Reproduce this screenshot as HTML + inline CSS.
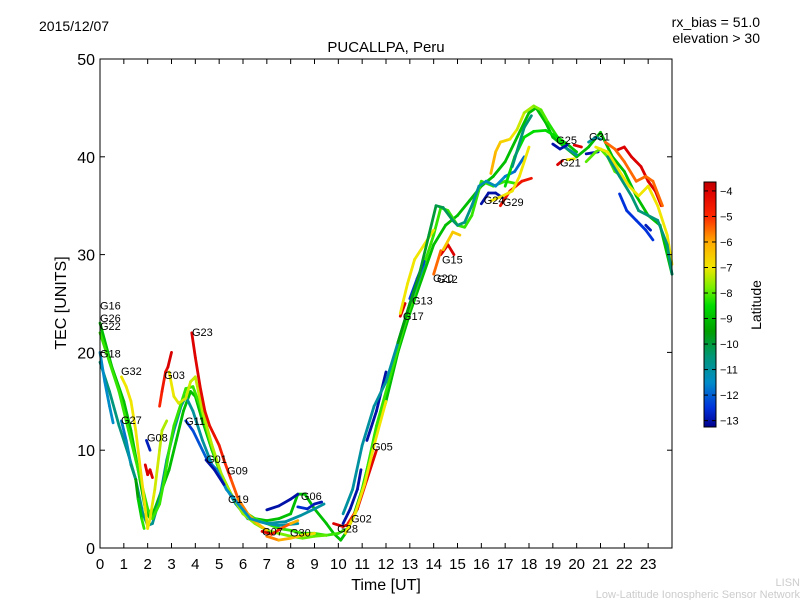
<!DOCTYPE html>
<html><head><meta charset="utf-8"><style>
body{margin:0;background:#fff;}
svg{display:block;font-family:"Liberation Sans","DejaVu Sans",sans-serif;}
</style></head><body>
<svg id="chart" width="800" height="600" viewBox="0 0 800 600">
<rect x="0" y="0" width="800" height="600" fill="#fff"/>
<text x="39" y="31" font-size="14">2015/12/07</text>
<text x="760" y="27" font-size="14" text-anchor="end">rx_bias = 51.0</text>
<text x="760" y="43" font-size="14" text-anchor="end">elevation &gt; 30</text>
<text x="386" y="52" font-size="15" text-anchor="middle">PUCALLPA, Peru</text>
<text x="386" y="590" font-size="16" text-anchor="middle">Time [UT]</text>
<text x="66" y="303" font-size="16" text-anchor="middle" transform="rotate(-90 66 303)">TEC [UNITS]</text>
<text x="800" y="586" font-size="11" fill="#ccc" text-anchor="end">LISN</text>
<text x="800" y="598" font-size="11" fill="#ccc" text-anchor="end">Low-Latitude Ionospheric Sensor Network</text>
<g id="plot"></g>
<g id="axes"></g>
<g id="cbar"></g>
<text x="761" y="305" font-size="14" text-anchor="middle" transform="rotate(-90 761 305)">Latitude</text>
</svg>
<script>
const xTicks = [0,1,2,3,4,5,6,7,8,9,10,11,12,13,14,15,16,17,18,19,20,21,22,23];
const yTicks = [0,10,20,30,40,50];
const cbTicks = [-4,-5,-6,-7,-8,-9,-10,-11,-12,-13];
const trackTimes = [
 [0,0.5,1,1.3,1.6,1.9,2.1,2.3,2.6,2.9,3.2,3.5,3.8,4,4.3,4.7,5,5.5,6,6.5,7,7.5,8,8.3,8.6,9,9.5,9.8,10.1,10.3,10.6,11,11.5,12,12.5,13,13.5,14,14.5,15,15.5,16,16.5,17,17.5,18,18.3,18.7,19,19.5,20,20.5,21,21.5,22,22.5,23,23.5,24],
 [0,0.4,0.8,1.2,1.5,1.8,2,2.2,2.5,2.8,3.1,3.4,3.6,3.9,4.3,4.7,5.2,5.7,6.2,7,7.8,8.4,9,9.4],
 [0,0.2,0.4,0.55],
 [0,0.4,0.8,1.2,1.5,1.8,2,2.2,2.5,2.7,2.9,3.1,3.3,3.6,3.9,4.2,4.6,5,5.5,6,6.5,7,7.5,8,8.5,9,9.5,10,10.4,10.8,11.2,11.6,12,12.4,12.8,13.2,13.6,14,14.3,14.6,15,15.3,15.6,16,16.5,17,17.4],
 [0.9,1.1,1.3,1.5,1.7,1.9,2,2.1,2.3,2.5,2.6,2.8],
 [0.9,1.1,1.3,1.5,1.6,1.75,1.85],
 [1.9,2,2.1,2.2],
 [2.5,2.6,2.75,2.85,3],
 [2.9,3.1,3.3,3.6,3.8,4,4.3,4.7,5.1,5.5,6,6.5,7,7.5,8,8.5,9,9.5],
 [3.85,4,4.2,4.4,4.6,4.8,5,5.2,5.5,5.8,6.2,6.6,7],
 [3.6,3.9,4.2,4.5,4.9,5.3,5.8,6.3,7,7.5,8.3],
 [4.45,4.8,5.2],
 [7,7.5,8,8.3],
 [8.3,8.7,9,9.3],
 [6.8,7.2,7.6,8,8.3],
 [7,7.5,8,8.5,9],
 [9.8,10.2,10.5],
 [10.4,10.8,11.2,11.6],
 [10.3,10.7,11.1,11.5,12],
 [10.2,10.5,10.8,10.95],
 [11.2,11.6,12],
 [10.2,10.6,11,11.5,12,12.5,13,13.3,13.6],
 [12.6,12.8],
 [12.6,12.9,13.2,13.6,14],
 [13,13.3,13.6],
 [14.3,14.6,14.85],
 [14.4,14.8,15.1],
 [14,14.3],
 [12.5,13,13.4,13.8,14.1,14.4,14.8,15,15.3,15.6,15.9,16.2,16.6,17,17.4,17.8],
 [16,16.3,16.6,16.9],
 [16.8,17.2,17.7,18.1],
 [16.4,16.9,17.3,17.6,18],
 [16.4,16.6,16.8,17.2,17.5,17.8,18.2,18.5,18.8,19.2,19.6,20],
 [17,17.4,17.8,18.2,18.7,19.2,19.5],
 [17.3,17.8,18.1],
 [19.5,20],
 [19,19.3,19.6],
 [19.9,20.2],
 [19.2,19.4],
 [19.6,19.9],
 [20.5,20.8,21],
 [20.4,20.9],
 [20.4,20.8,21,21.3,21.6,21.9],
 [21.7,22,22.3,22.7,23,23.3,23.55],
 [21.2,21.6,22,22.5,22.9,23.2,23.6],
 [20.8,21.3,21.8,22.2,22.6,23,23.4,23.8,24],
 [21.3,21.8,22.3,22.6,23,23.4,23.8,24],
 [21.8,22.1,22.5,22.9,23.2],
 [22.9,23.1],
 [1.95,2.1]
];
const trackTec = [
 [23,18.5,15,12,8,4,3,4,6,8,11,14,16,15.5,13,10,8,5.5,3.5,3,2.8,3,3.5,5.5,5.5,4,2.5,1.5,0.8,1.5,3,6,11,15,20,24,27.5,31,33,34,35.5,37,38,39.5,42,44.5,45,43.5,42,41,40,41,42.5,40,38.5,36,34,33,28],
 [19,16,12.5,9.5,7,3.5,2.3,2.5,5,9,12,14.5,15.5,14,11,8.5,6.5,4.5,3,2.5,2.7,3.3,4,4.5],
 [20,17,14.5,12.8],
 [22,19,16,12,9,6,4,3,4.5,7,10,12.5,14,16.3,16.5,14.5,11,8,5.5,3.8,3,2.5,2,1.8,1.5,1.5,1.3,1.5,2,4,8,12.5,16,19.5,23,26,29,32,34.8,34.5,33,32.8,34,37.5,37,37.5,37.3],
 [17.5,16.5,15,12,8,4,2,3,6,10,12,13],
 [13,11,8.5,7,5,3,2],
 [8.5,7.5,8,7.2],
 [14.5,16,18,18.5,20],
 [18,15.5,14.8,15.3,17,17.5,14,10.5,7.5,5.5,3.5,2.5,1.8,1.5,1.2,1,1.2,1.3],
 [22,19.5,16.5,14,12.5,11.5,10.5,9,7,5,3.5,2.5,1.8],
 [13,12,10.5,9,8,6,4.5,3,2.5,2.3,2.5],
 [9,8,6.5],
 [3.9,4.3,5,5.5],
 [4.2,4,4.5,4.7],
 [1.7,1.4,2,2.5,2.8],
 [1.2,0.8,1,1.3,1.5],
 [2.5,2.2,2.5],
 [2.5,4,7,10],
 [1.5,3.5,6.5,10.5,15],
 [2.5,4,6,8],
 [11,14,18],
 [3.5,6,10.5,14.5,17,21,25,27,29],
 [23.7,25],
 [24,27,29.5,31,32.5],
 [25.5,27.5,29.3],
 [30,31,30],
 [30.5,32.3,32],
 [28,30.4],
 [21,25,28,32,35,34.8,33.5,33,33.3,35,37,37.5,37,38,38.5,40],
 [35.2,36.3,36.3,35.8],
 [35,36.5,37.5,37.8],
 [35.5,36,36.5,38,41],
 [38.3,40.5,41.5,41.8,42.8,44.5,45.2,44.8,43.5,42,41.3,40.5],
 [37,40,42,42.6,42.7,42,41.2],
 [39,43,44.2],
 [41,40.2],
 [41.3,40.8,41.2],
 [41.2,41],
 [39.2,39.6],
 [39.7,39.8],
 [41.5,42,41.8],
 [40.3,40.5],
 [39.5,40.5,40.8,40,38.5,38],
 [40.7,41,40,39,37.5,36.5,35],
 [41.5,40.8,39.5,37.5,38,37.5,35],
 [41,40.5,38.5,37,36,37,35,32,29],
 [40,38,36,34.5,34,33.5,31,28],
 [36.2,34.5,33.5,32.5,31.5],
 [33,32.5],
 [11,10]
];
const trackLat = [
 [-9],[-10.5,-10.8,-11,-11],[-11.5],[-8.2],[-7,-7,-6.8,-7.2,-7.5],[-12,-11,-9,-8],[-4],[-5,-3.8],[-7,-7.5,-8],[-4,-4.5,-6.5],[-12.5,-11.5,-11],[-13],[-13],[-12.5,-13],[-4,-5,-6.5],[-5.5,-7],[-4],[-5,-4],[-7],[-13],[-13],[-11],[-4],[-7],[-12.5],[-4],[-6.5],[-5.5],[-9.5,-10.5,-12],[-13],[-4.5],[-7],[-6,-9],[-8.5],[-10.5],[-10.8],[-13],[-4],[-4],[-7],[-11],[-13],[-8],[-4],[-5.5],[-7],[-10.5],[-12.5],[-12.8],[-12.8]
];
const labelNames = ["G16","G26","G22","G18","G32","G03","G23","G27","G08","G11","G01","G09","G19","G06","G07","G30","G28","G02","G05","G17","G13","G20","G12","G15","G24","G29","G25","G31","G21"];
const labelT = [0,0,0,0,0.88,2.69,3.86,0.88,1.97,3.57,4.45,5.33,5.37,8.43,6.8,7.97,9.95,10.53,11.41,12.71,13.09,13.97,14.14,14.35,16.1,16.9,19.14,20.52,19.3];
const labelTec = [24.8,23.5,22.7,19.9,18.1,17.7,22.1,13.1,11.3,13.0,9.1,7.9,5.0,5.3,1.7,1.6,2.0,3.0,10.4,23.7,25.3,27.6,27.5,29.5,35.6,35.4,41.7,42.1,39.4];

const X0=100,X1=672,Y0=548,Y1=59,VMIN=-13.25,VMAX=-3.65,CBT=182,CBB=427,CBL=704,CBR=716;
const NS="http://www.w3.org/2000/svg";
function xs(t){return X0+(X1-X0)*t/24;}
function ys(v){return Y0-(Y0-Y1)*v/50;}
function cs(l){return CBB-(CBB-CBT)*(l-VMIN)/(VMAX-VMIN);}
const cmapStops=[[-13.25,0,0,140],[-12.5,0,50,220],[-11.5,0,140,200],[-10.5,0,150,120],[-9.5,0,160,0],[-8.5,0,220,0],[-7.8,120,240,0],[-7,240,230,0],[-6,255,170,0],[-5,255,40,0],[-4,220,0,0],[-3.65,190,0,0]];
function jet(l){
 if(l<=cmapStops[0][0])l=cmapStops[0][0];
 if(l>=cmapStops[cmapStops.length-1][0])l=cmapStops[cmapStops.length-1][0];
 for(let i=0;i<cmapStops.length-1;i++){const a=cmapStops[i],b=cmapStops[i+1];
  if(l<=b[0]){const f=(l-a[0])/(b[0]-a[0]);
   return `rgb(${Math.round(a[1]+(b[1]-a[1])*f)},${Math.round(a[2]+(b[2]-a[2])*f)},${Math.round(a[3]+(b[3]-a[3])*f)})`;}}
 return 'rgb(190,0,0)';}
function mk(tag,attrs,parent){const e=document.createElementNS(NS,tag);for(const k in attrs)e.setAttribute(k,attrs[k]);parent.appendChild(e);return e;}
const plot=document.getElementById('plot'),axes=document.getElementById('axes'),cbar=document.getElementById('cbar');
function latAt(arr,i,n){if(arr.length===1)return arr[0];const p=i/(n-1)*(arr.length-1);const k=Math.min(Math.floor(p),arr.length-2);const f=p-k;return arr[k]*(1-f)+arr[k+1]*f;}
trackTimes.forEach((tt,ti)=>{
 const g=mk('g',{},plot);
 
 
 const vv=trackTec[ti],la=trackLat[ti],n=tt.length;
 for(let i=0;i<n-1;i++){
  const l=(latAt(la,i,n)+latAt(la,i+1,n))/2;
  const seg=mk('line',{x1:xs(tt[i]),y1:ys(vv[i]),x2:xs(tt[i+1]),y2:ys(vv[i+1]),stroke:jet(l),'stroke-width':2.8,'stroke-linecap':'round'},g);
  
  
 }
});
labelNames.forEach((nm,i)=>{
 const t=mk('text',{x:xs(labelT[i]),y:ys(labelTec[i])+4,'font-size':11},plot);
 t.textContent=nm;
 
 
});
const fr=mk('rect',{x:X0,y:Y1,width:X1-X0,height:Y0-Y1,fill:'none',stroke:'#000','stroke-width':1},axes);


xTicks.forEach(t=>{
 const x=xs(t);
 mk('line',{x1:x,y1:Y0,x2:x,y2:Y0-5,stroke:'#000'},axes);
 mk('line',{x1:x,y1:Y1,x2:x,y2:Y1+5,stroke:'#000'},axes);
 const lb=mk('text',{x:x,y:569,'font-size':15,'text-anchor':'middle'},axes);
 lb.textContent=t;
 
 
});
yTicks.forEach(v=>{
 const y=ys(v);
 mk('line',{x1:X0,y1:y,x2:X0+5,y2:y,stroke:'#000'},axes);
 mk('line',{x1:X1,y1:y,x2:X1-5,y2:y,stroke:'#000'},axes);
 const lb=mk('text',{x:95,y:y+6,'font-size':16,'text-anchor':'end'},axes);
 lb.textContent=v;
 
 
});
for(let y=CBT;y<CBB;y++){
 const l=VMAX-(VMAX-VMIN)*(y-CBT+0.5)/(CBB-CBT);
 mk('rect',{x:CBL,y:y,width:CBR-CBL,height:1.2,fill:jet(l)},cbar);
}
const cf=mk('rect',{x:CBL,y:CBT,width:CBR-CBL,height:CBB-CBT,fill:'none',stroke:'#000'},cbar);


cbTicks.forEach(v=>{
 const y=cs(v);
 mk('line',{x1:CBR-4,y1:y,x2:CBR,y2:y,stroke:'#000'},cbar);
 mk('line',{x1:CBL,y1:y,x2:CBL+4,y2:y,stroke:'#000'},cbar);
 const lb=mk('text',{x:720,y:y+4,'font-size':11},cbar);
 lb.textContent='\u2212'+Math.abs(v);
 
 
});
</script>
</body></html>
